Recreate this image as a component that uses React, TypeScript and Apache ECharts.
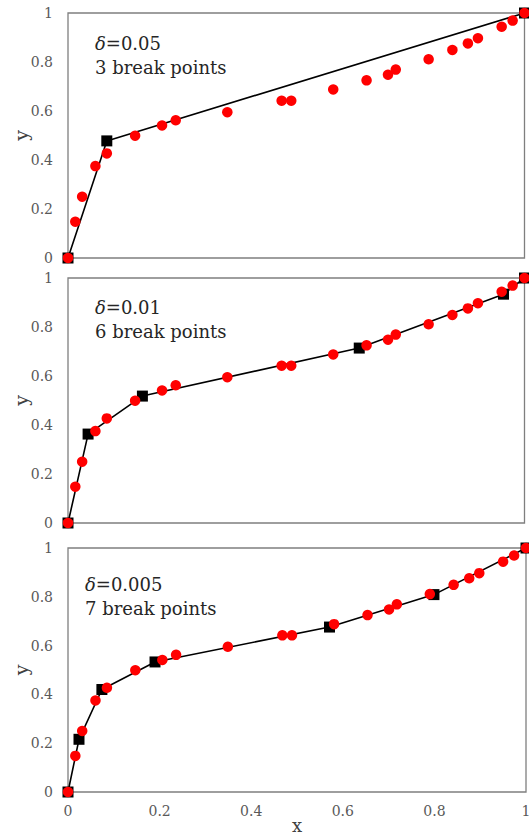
import React, { useEffect, useRef } from "react";
import * as echarts from "echarts";

const pointX = [0, 0.016, 0.031, 0.06, 0.085, 0.147, 0.206, 0.236, 0.349, 0.468, 0.489, 0.581, 0.654, 0.701, 0.718, 0.79, 0.842, 0.876, 0.898, 0.95, 0.974, 1];
const pointY = [0, 0.148, 0.25, 0.375, 0.427, 0.499, 0.541, 0.562, 0.595, 0.642, 0.642, 0.688, 0.725, 0.748, 0.769, 0.811, 0.849, 0.876, 0.897, 0.944, 0.969, 1];

const break1X = [0, 0.085, 1];
const break1Y = [0, 0.478, 1];
const break2X = [0, 0.044, 0.163, 0.638, 0.954, 1];
const break2Y = [0, 0.363, 0.518, 0.714, 0.934, 1];
const break3X = [0, 0.024, 0.074, 0.19, 0.571, 0.799, 1];
const break3Y = [0, 0.216, 0.42, 0.533, 0.676, 0.809, 1];

const deltas = ["0.05", "0.01", "0.005"];
const breakLabels = ["3 break points", "6 break points", "7 break points"];
const tickLabels = ["0", "0.2", "0.4", "0.6", "0.8", "1"];

const FONT = "'DejaVu Serif', serif";

export default function App() {
  const ref = useRef<HTMLDivElement>(null);
  useEffect(() => {
    if (!ref.current) return;
    const chart = echarts.init(ref.current, null, { renderer: "svg" });
    const pts = pointX.map((x, i) => [x, pointY[i]]);
    const breaks = [
      break1X.map((x, i) => [x, break1Y[i]]),
      break2X.map((x, i) => [x, break2Y[i]]),
      break3X.map((x, i) => [x, break3Y[i]]),
    ];
    const grids = [
      { left: 68, top: 13, width: 456.5, height: 245 },
      { left: 68, top: 278, width: 456.5, height: 245 },
      { left: 68, top: 548, width: 458, height: 244 },
    ].map((g) => ({
      ...g,
      show: true,
      containLabel: false,
      outerBoundsMode: "none",
      borderColor: "#7f7f7f",
      borderWidth: 1.3,
      backgroundColor: "transparent",
    }));
    const labelFmt = (v: number) => tickLabels[Math.round(v / 0.2)] ?? String(v);
    const xAxes = [0, 1, 2].map((i) => ({
      type: "value",
      gridIndex: i,
      min: 0,
      max: 1,
      interval: 0.2,
      splitLine: { show: false },
      axisLine: { show: false },
      axisTick: { show: false },
      axisLabel: { show: i === 2, formatter: labelFmt, color: "#595959", fontFamily: FONT, fontSize: 14, margin: 12 },
      name: i === 2 ? "x" : "",
      nameLocation: "middle",
      nameGap: 24,
      nameMoveOverlap: false,
      nameTextStyle: { color: "#404040", fontFamily: FONT, fontSize: 18 },
    }));
    const yAxes = [0, 1, 2].map((i) => ({
      type: "value",
      gridIndex: i,
      min: 0,
      max: 1,
      interval: 0.2,
      splitLine: { show: false },
      axisLine: { show: false },
      axisTick: { show: false },
      axisLabel: { formatter: labelFmt, color: "#595959", fontFamily: FONT, fontSize: 14, margin: 15 },
      name: "y",
      nameLocation: "middle",
      nameGap: 38,
      nameMoveOverlap: false,
      nameTextStyle: { color: "#404040", fontFamily: FONT, fontSize: 19 },
    }));
    const series: any[] = [];
    [0, 1, 2].forEach((i) => {
      series.push({
        type: "line",
        xAxisIndex: i,
        yAxisIndex: i,
        z: 2,
        data: breaks[i],
        symbol: "rect",
        symbolSize: 11,
        showAllSymbol: true,
        clip: false,
        lineStyle: { color: "#000", width: 1.6 },
        itemStyle: { color: "#000" },
      });
      series.push({
        type: "scatter",
        xAxisIndex: i,
        yAxisIndex: i,
        z: 5,
        data: pts,
        symbol: "circle",
        symbolSize: 10.5,
        clip: false,
        itemStyle: { color: "#ff0000", opacity: 1 },
      });
    });
    const textPos = [
      { x: 95, y: 43 },
      { x: 95, y: 307 },
      { x: 85, y: 584 },
    ];
    const graphic: any[] = [];
    textPos.forEach((p, i) => {
      graphic.push({
        type: "text",
        x: p.x,
        y: p.y,
        style: {
          text: "{i|δ}=" + deltas[i],
          rich: { i: { fontStyle: "italic", fontFamily: FONT, fontSize: 18, fill: "#262626" } },
          fontFamily: FONT,
          fontSize: 18,
          fill: "#262626",
          verticalAlign: "middle",
        },
      });
      graphic.push({
        type: "text",
        x: p.x,
        y: p.y + 24,
        style: { text: breakLabels[i], fontFamily: FONT, fontSize: 18, fill: "#262626", verticalAlign: "middle" },
      });
    });
    chart.setOption({
      animation: false,
      backgroundColor: "#fff",
      grid: grids,
      xAxis: xAxes,
      yAxis: yAxes,
      series,
      graphic,
    });
    return () => chart.dispose();
  }, []);
  return <div ref={ref} style={{ position: "fixed", left: 0, top: 0, width: 529, height: 835 }} />;
}
